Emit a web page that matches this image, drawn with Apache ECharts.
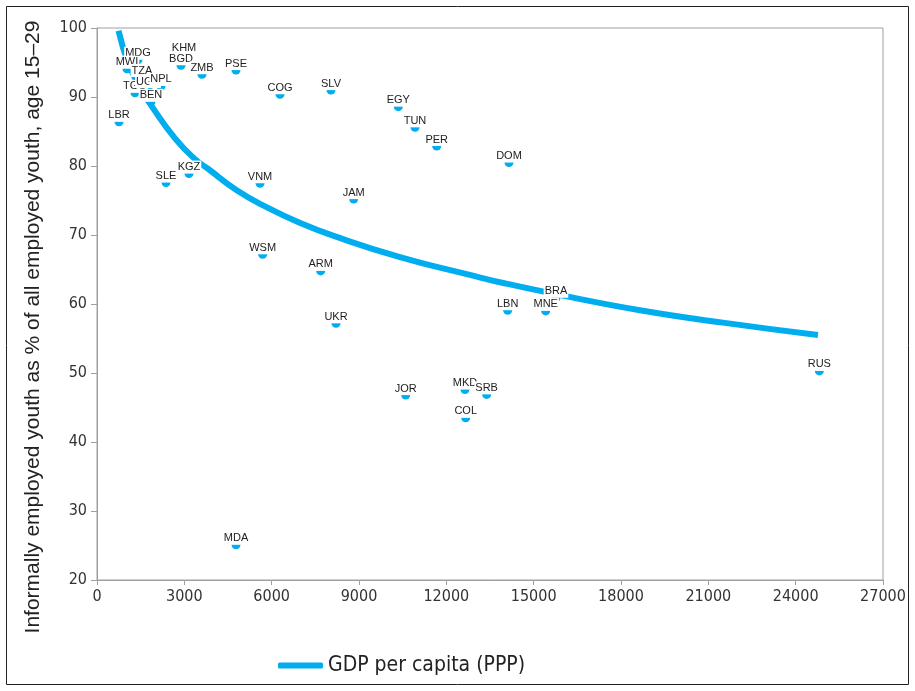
<!DOCTYPE html>
<html>
<head>
<meta charset="utf-8">
<script src="https://cdn.jsdelivr.net/npm/echarts@6/dist/echarts.min.js"></script>
<style>
html,body{margin:0;padding:0;background:#fff;}
#c{width:915px;height:691px;}
</style>
</head>
<body>
<div id="c"></div>
<script>
// Country codes, GDP per capita (PPP) and informal youth employment share (%)
const countries = ['LBR','MDG','MWI','TZA','TGO','UGA','NPL','BEN','KHM','BGD','ZMB','PSE','COG','SLV','EGY','TUN','PER','DOM','SLE','KGZ','VNM','JAM','WSM','ARM','UKR','JOR','MKD','SRB','COL','LBN','MNE','BRA','RUS','MDA'];
const gdp = [756,1408,1030,1546,1305,1752,2199,1855,2989,2885,3607,4775,6286,8038,10350,10924,11669,14153,2370,3160,5600,8817,5690,7684,8210,10604,12640,13385,12665,14107,15413,15767,24813,4775];
const informal = [86.4,95.4,94.1,92.9,90.6,91.3,91.6,89.3,96.2,94.6,93.3,93.9,90.4,91.0,88.6,85.6,82.9,80.5,77.6,78.9,77.5,75.2,67.2,64.8,57.2,46.8,47.6,46.9,43.5,59.1,59.0,60.9,50.3,25.1];

// Trend curve points
const trendGdp = [740,1065,1450,1889,2680,3366,3813,4800,5840,7000,8107,10408,12916,14000,15802,18653,21500,24767];
const trendVal = [99.6,95.0,91.6,88.6,84.0,81.0,79.6,76.5,74.0,71.7,69.9,66.8,64.1,63.0,61.4,59.1,57.3,55.5];

// Axis ticks
const xTicks = {min:0, max:27000, interval:3000};
const yTicks = {min:20, max:100, interval:10};

const seriesName = 'GDP per capita (PPP)';
const blue = '#00AEEF';
const narrow = '"Liberation Sans Narrow","DejaVu Sans Condensed",sans-serif';

const scatterData = countries.map((c,i)=>({name:c, value:[gdp[i], informal[i]]}));
const trendData = trendGdp.map((g,i)=>[g, trendVal[i]]);

const chart = echarts.init(document.getElementById('c'), null, {renderer:'canvas'});
chart.setOption({
  animation:false,
  backgroundColor:'#fff',
  grid:{left:97, right:32, top:28, bottom:111, show:true, borderColor:'#a0a0a0', borderWidth:1},
  xAxis:{
    type:'value', min:xTicks.min, max:xTicks.max, interval:xTicks.interval,
    axisLine:{show:true, lineStyle:{color:'#a0a0a0', width:1}},
    axisTick:{show:true, length:5, lineStyle:{color:'#a0a0a0'}},
    axisLabel:{color:'#333', fontFamily:narrow, fontSize:16, margin:9, formatter:v=>String(v)},
    splitLine:{show:false}
  },
  yAxis:{
    type:'value', min:yTicks.min, max:yTicks.max, interval:yTicks.interval,
    axisLine:{show:true, lineStyle:{color:'#a0a0a0', width:1}},
    axisTick:{show:true, length:6, lineStyle:{color:'#a0a0a0'}},
    axisLabel:{color:'#333', fontFamily:narrow, fontSize:16, margin:10, formatter:v=>String(v)},
    splitLine:{show:false}
  },
  legend:{
    data:[seriesName], left:273, top:650, itemWidth:45, itemHeight:6, itemGap:9,
    icon:'roundRect',
    textStyle:{fontFamily:narrow, fontSize:21, color:'#222'}
  },
  graphic:[
    {type:'rect', shape:{x:6.5, y:6.5, width:902, height:678}, style:{fill:null, stroke:'#222', lineWidth:1}, silent:true, z:-1},
    {type:'text', x:33, y:327, rotation:Math.PI/2,
      style:{text:'Informally employed youth as % of all employed youth, age 15–29', fill:'#222',
      font:'21px "Liberation Sans", Arial, sans-serif', align:'center', verticalAlign:'middle'}}
  ],
  series:[
    {
      name:seriesName, type:'line', data:trendData, smooth:0.5, showSymbol:false, symbol:'none',
      lineStyle:{color:blue, width:6}, itemStyle:{color:blue}, z:2
    },
    {
      name:'countries', type:'scatter', data:scatterData, symbolSize:9, z:3,
      itemStyle:{color:blue, opacity:1},
      label:{show:true, position:'top', distance:-4.5, formatter:'{b}', color:'#222',
        fontFamily:'"Liberation Sans", Arial, sans-serif', fontSize:11,
        backgroundColor:'#fff', padding:[1,1,1,1]},
      labelLayout:{hideOverlap:false}
    }
  ]
});
</script>
</body>
</html>
